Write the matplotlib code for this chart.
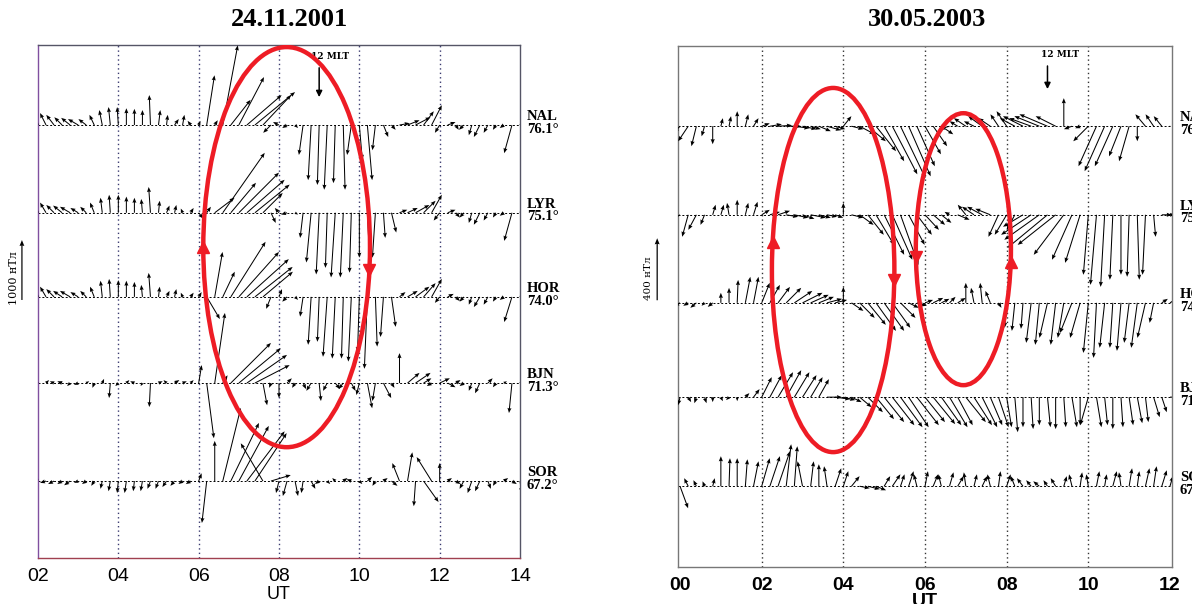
import numpy as np
import matplotlib
matplotlib.use('Agg')
import matplotlib.pyplot as plt
from matplotlib.patches import Ellipse

# ---------------- 24.11.2001 (02-14 UT, 12 min samples, nT) ----------------
t_2001 = np.round(np.arange(2.0, 14.01, 0.2), 1)

nal_x_2001 = [-50, -100, -130, -130, -150, -170, -130, -80, -50, -30, -20, 0, 0, 0, -20,
              30, 20, 70, 30, -50, 30, 130, 50, 250, 330, 420, 580, 670, 470, -130,
              -100, -80, 50, -70, -50, -30, -50, -30, 30, -70, 50, 80, -50, 80, 70,
              170, 200, 250, 170, 170, -80, 130, 50, -80, -50, -100, -70, -50, -70, -130, 30]
nal_y_2001 = [250, 200, 170, 130, 120, 100, 100, 170, 250, 300, 300, 280, 270, 250, 500,
              250, 170, 100, 170, 70, 70, 830, 80, 1330, 420, 800, 500, 550, 500, -130,
              50, -50, -50, -500, -920, -1000, -1080, -970, -1080, -500, -580, -920, -420, -200, -80,
              30, 80, 130, 230, 330, -130, 50, -80, -80, -170, -200, -130, -80, -50, -470, 30]

lyr_x_2001 = [-50, -100, -130, -150, -170, -130, -100, -70, -30, -20, 0, 0, 0, -20, -30,
              20, 50, 30, -30, 50, 80, 70, 330, 700, 420, 670, 630, 580, 330, 80,
              -70, -100, 50, -50, -80, -50, -30, -70, -50, -30, 0, 50, -50, 30, 80,
              130, 170, 230, 200, 170, -100, 130, 70, -70, -50, -100, -70, -50, -70, -130, 30]
lyr_y_2001 = [250, 170, 130, 120, 100, 80, 100, 170, 250, 300, 300, 270, 250, 230, 430,
              200, 120, 130, 70, 80, -100, 100, 250, 1000, 500, 670, 550, 470, 330, -170,
              80, -30, -30, -420, -830, -1030, -920, -1080, -1080, -1000, -750, -1000, -750, -420, -330,
              50, 80, 130, 200, 300, -130, 50, -80, -80, -170, -200, -130, -80, -50, -470, 30]

hor_x_2001 = [-50, -100, -130, -150, -170, -130, -100, -70, -30, -20, 0, 0, 0, -20, -30,
              20, 50, 30, -30, 50, 50, 220, 130, 200, 580, 670, 700, 630, 500, -80,
              50, -80, 50, -50, -50, -30, -70, -50, -30, -50, -30, -50, 30, -50, 70,
              100, 170, 230, 200, 170, -80, 100, 70, -70, -50, -100, -70, -50, -70, -130, 30]
hor_y_2001 = [230, 170, 130, 100, 100, 80, 100, 170, 270, 300, 280, 270, 250, 200, 400,
              170, 100, 130, 70, 70, 80, -370, 750, 420, 920, 750, 630, 500, 420, -200,
              130, -80, -50, -330, -800, -750, -1000, -1030, -1030, -1080, -920, -1200, -830, -670, -500,
              80, 100, 170, 230, 300, -100, 50, -70, -80, -130, -170, -130, -80, -50, -420, 30]

bjn_x_2001 = [-130, 50, -70, -80, -50, -70, 50, -30, 30, -20, -50, 50, -70, -30, -20,
              70, -50, 80, 70, 50, 50, 120, 170, 80, 670, 700, 670, 580, 70, -30,
              0, 80, -50, 50, -80, 30, -70, 80, -80, 70, -50, 80, -50, 130, 50,
              0, 200, 250, 130, -80, 170, 130, 80, -70, -50, -80, 80, -50, 50, -50, 30]
bjn_y_2001 = [170, 50, 30, 30, -50, -30, 30, -80, 70, -250, -50, 50, 30, -50, -400,
              30, 50, 50, 30, 50, 300, -920, 1170, 130, 670, 580, 470, 300, -370, -80,
              -250, 80, -80, -100, -130, -300, -130, -100, -100, -130, -200, -420, -300, -250, -80,
              500, 170, 170, 80, -50, 80, -70, 50, -50, -130, -170, 80, -70, 30, -500, 30]

sor_x_2001 = [-80, -100, -100, -80, -100, -70, -70, -50, -30, -30, -20, -30, -20, -30, -50,
              -50, -70, -70, -70, -80, 50, -80, 0, 300, 470, 500, 630, 530, -370, 330,
              -50, -70, 50, -30, 70, -70, 50, -50, 70, -80, 50, 80, -50, 70, 100,
              -120, 80, -30, 250, -250, 0, 70, 80, -70, -70, -80, 50, -50, 70, 80, 30]
sor_y_2001 = [50, -30, -50, -50, -70, -30, -50, -80, -130, -170, -200, -200, -170, -170, -130,
              -130, -100, -80, -50, -50, 130, -700, 670, 1220, 970, 920, 830, 800, 630, 100,
              -200, -250, -250, -200, -130, -50, -50, 50, 50, 30, -50, 70, -80, 50, -80,
              300, 480, -420, -350, 400, 300, 50, -50, -130, -200, -170, -130, -80, 50, -50, -200]

# ---------------- 30.05.2003 (00-12 UT, 12 min samples, nT) ----------------
t_2003 = np.round(np.arange(0.0, 12.01, 0.2), 1)

nal_x_2003 = [-39, -65, -32, -19, 0, 13, 13, 0, 19, 32, 52, 77, 90, 97, 97,
              90, 65, 77, 90, 65, 52, 77, 97, 116, 129, 129, 161, 161, 142, 116,
              103, 90, 77, -65, -52, -77, -65, -90, -77, -52, -65, -97, -129, -142, -161,
              -181, -129, 0, -52, -32, -97, -116, -129, -116, -77, -65, 0, -65, -52, -52, 0]
nal_y_2003 = [-39, -97, -129, -65, -116, 52, 65, 97, 77, 52, 19, 13, 6, 0, -13,
              -19, -19, -32, -26, -19, 65, -19, -52, -97, -161, -226, -310, -335, -323, -258,
              -181, -129, -52, -19, 32, 52, 32, 65, 52, 77, 97, 52, 65, 52, 65,
              77, 65, 181, -19, -13, -97, -258, -290, -258, -194, -226, -97, 77, 77, 65, 0]

lyr_x_2003 = [-52, -39, -52, -26, 19, 19, -13, 0, 19, 26, 52, 65, 77, 77, 90,
              77, 97, 77, 65, 52, 0, 77, 90, 103, 116, 129, 129, 116, 103, 97,
              90, 77, 65, -32, 77, -52, -77, -97, -97, -65, -77, -52, -129, -194, -226,
              -258, -245, -194, -129, -97, -32, -39, -26, -19, 0, -13, 13, -19, 13, 65, 32]
lyr_y_2003 = [-32, -142, -97, -65, 65, 65, 77, 97, 77, 84, 32, 19, 26, -13, -19,
              -26, -19, -19, -13, -19, 77, -19, -65, -129, -194, -258, -290, -323, -194, -129,
              -97, -65, -52, 19, -32, 65, 52, 52, 39, -142, -129, -97, -77, -129, -161,
              -213, -194, -258, -290, -310, -387, -452, -465, -419, -387, -400, -419, -387, -142, 0, 0]

hor_x_2003 = [-39, -32, -39, -19, -32, 0, 0, 6, 32, 32, 52, 65, 77, 97, 116,
              129, 116, 97, 97, 77, 0, 77, 97, 116, 129, 129, 116, 97, 65, 65,
              52, 65, 52, 39, 52, 0, -19, -13, -32, 19, -13, -19, -13, -32, -26,
              -52, -32, -39, -77, -65, -32, -19, -32, -19, -26, -32, -39, -52, -26, 39, 52]
hor_y_2003 = [-19, -19, -32, -19, -26, 65, 97, 148, 168, 168, 129, 116, 103, 97, 77,
              65, 52, 39, 26, 19, 103, -52, -97, -142, -181, -181, -161, -97, -32, -19,
              19, 32, 26, 39, 32, 129, 97, 129, 77, -32, -161, -181, -168, -258, -271,
              -226, -271, -226, -194, -226, -323, -355, -290, -290, -310, -258, -290, -226, -129, 26, 32]

bjn_x_2003 = [-13, 19, -13, 13, 0, 13, -19, 0, 26, 39, 65, 77, 97, 97, 97,
              90, 77, 65, 97, 97, 77, 65, 77, 97, 116, 129, 142, 142, 129, 142,
              129, 142, 129, 116, 97, 129, 116, 97, 77, 65, 32, 19, 0, 13, 0,
              19, 0, 13, 32, 0, -52, 32, 19, 0, 13, 26, 32, 19, 39, 32, 65]
bjn_y_2003 = [-52, -32, -39, -39, -32, -26, -19, -26, 26, 52, 129, 142, 161, 174, 161,
              142, 129, 116, 0, -13, -19, -32, -65, -97, -142, -161, -181, -194, -194, -181,
              -161, -174, -181, -194, -181, -161, -181, -194, -181, -194, -194, -226, -194, -206, -181,
              -194, -206, -194, -194, -181, -181, -194, -181, -206, -194, -181, -168, -161, -129, -97, 0]

sor_x_2003 = [52, -26, -19, -13, 13, 0, 6, 0, 13, 32, 52, 65, 77, 32, 19,
              -32, 19, 0, -19, 39, 32, 52, 65, 77, 65, 39, 52, 26, 32, -19,
              19, 32, -19, 26, 39, -13, 19, 32, -19, 13, 26, -26, -39, -32, -39,
              -26, -32, 19, -19, 13, -13, 19, 13, 26, -13, 19, 13, 26, 19, 32, 19]
sor_y_2003 = [-142, 52, 39, 32, 52, 194, 181, 181, 174, 161, 181, 194, 226, 271, 258,
              161, 161, 142, 129, 116, 97, 65, -13, -19, -26, 65, 77, 77, 97, 77,
              97, 77, 77, 90, 65, 90, 77, 65, 77, 97, 77, 65, 52, 39, 32,
              39, 52, 65, 77, 90, 77, 97, 77, 97, 90, 116, 97, 116, 129, 103, 65]

stations = ['NAL', 'LYR', 'HOR', 'BJN', 'SOR']
latitudes = ['76.1°', '75.1°', '74.0°', '71.3°', '67.2°']

RED = '#ee1c25'

fig = plt.figure(figsize=(11.92, 6.04), dpi=100)
W, H = 1192.0, 604.0


def panel(rect, t, comps, levels, nt_per_unit, xlim, xticks, bold, frame_col, grid_col):
    ax = fig.add_axes(rect)
    ax.set_xlim(*xlim)
    ax.set_ylim(0, 100)
    ax.set_yticks([])
    ax.set_xticks(xticks)
    ax.set_xticklabels(['%02d' % v for v in xticks], family='Liberation Sans',
                       fontsize=14, fontweight='bold' if bold else 'normal')
    ax.tick_params(axis='x', length=0, pad=7)
    for s in ax.spines.values():
        s.set_color(frame_col)
        s.set_linewidth(1.0)
    for xv in xticks[1:-1]:
        ax.axvline(xv, color=grid_col, lw=1.0, ls=(0, (1, 2.2)), zorder=1)
    for (u, v), lev in zip(comps, levels):
        ax.axhline(lev, color='k', lw=0.7, ls=(0, (2, 2)), zorder=2)
        ax.quiver(t, np.full(len(t), lev), u, v, angles='uv', scale_units='y',
                  scale=nt_per_unit, width=0.0021, headwidth=4, headlength=5,
                  headaxislength=4.5, color='k', pivot='tail', zorder=3)
    return ax


def labels(ax, levels, xfrac):
    for name, lat, lev in zip(stations, latitudes, levels):
        ax.text(xfrac, lev + 0.4, name + '\n' + lat, transform=ax.get_yaxis_transform(),
                ha='left', va='center', fontsize=10.5, family='Liberation Serif',
                fontweight='bold', linespacing=0.95, clip_on=False)


def ring(ax, cx, cy, w, h, marks):
    ax.add_patch(Ellipse((cx, cy), w, h, fill=False, ec=RED, lw=3.2, zorder=6))
    for ang, m in marks:
        a = np.radians(ang)
        ax.plot(cx + w / 2 * np.cos(a), cy + h / 2 * np.sin(a), marker=m, ms=9,
                color=RED, zorder=7, clip_on=False)


# ---- left panel ----
lev_2001 = [84.4, 67.3, 50.9, 34.1, 15.0]
comps_2001 = [(nal_x_2001, nal_y_2001), (lyr_x_2001, lyr_y_2001), (hor_x_2001, hor_y_2001),
              (bjn_x_2001, bjn_y_2001), (sor_x_2001, sor_y_2001)]
ax1 = panel([38 / W, 1 - 558 / H, 482 / W, 513 / H], t_2001, comps_2001, lev_2001, 85.6,
            (2, 14), [2, 4, 6, 8, 10, 12, 14], False, '#555566', '#3a3a70')
ax1.spines['left'].set_color('#8050a0')
ax1.spines['bottom'].set_color('#a04050')
ax1.set_xlabel('UT', family='Liberation Sans', fontsize=13)
ax1.xaxis.set_label_coords(0.5, -0.054)
labels(ax1, lev_2001, 1.014)
fig.text(289 / W, 1 - 19 / H, '24.11.2001', family='Liberation Serif', fontweight='bold',
         fontsize=19, ha='center', va='center')

ax1.quiver([1.6], [50.3], [0], [1000], angles='uv', scale_units='y', scale=85.6,
           width=0.0025, headwidth=4, headlength=5, headaxislength=4.5, color='k',
           clip_on=False)
ax1.text(1.40, 54.5, '1000 нТл', rotation=90, ha='center', va='center', fontsize=8,
         family='DejaVu Serif', clip_on=False)
ax1.annotate('', xy=(9.0, 89.3), xytext=(9.0, 96.1),
             arrowprops=dict(arrowstyle='-|>', color='k', lw=1.1, mutation_scale=9))
ax1.text(9.26, 97.7, '12 MLT', fontsize=6.5, family='DejaVu Serif', fontweight='bold',
         ha='center', va='center')
ring(ax1, 8.19, 60.6, 4.15, 78.0, [(180, '^'), (-6.5, 'v')])

# ---- right panel ----
lev_2003 = [84.6, 67.6, 50.7, 32.6, 15.5]
comps_2003 = [(nal_x_2003, nal_y_2003), (lyr_x_2003, lyr_y_2003), (hor_x_2003, hor_y_2003),
              (bjn_x_2003, bjn_y_2003), (sor_x_2003, sor_y_2003)]
ax2 = panel([678 / W, 1 - 567 / H, 494 / W, 521 / H], t_2003, comps_2003, lev_2003, 33.6,
            (-0.05, 12.05), [0, 2, 4, 6, 8, 10, 12], True, '#777777', '#333333')
ax2.set_xlabel('UT', family='Liberation Sans', fontsize=14, fontweight='bold')
ax2.xaxis.set_label_coords(0.5, -0.05)
labels(ax2, lev_2003, 1.016)
fig.text(927 / W, 1 - 19 / H, '30.05.2003', family='Liberation Serif', fontweight='bold',
         fontsize=19, ha='center', va='center')

ax2.quiver([-0.56], [51.2], [0], [400], angles='uv', scale_units='y', scale=33.6,
           width=0.0025, headwidth=4, headlength=5, headaxislength=4.5, color='k',
           clip_on=False)
ax2.text(-0.77, 55.5, '400 нТл', rotation=90, ha='center', va='center', fontsize=7.5,
         family='DejaVu Serif', clip_on=False)
ax2.annotate('', xy=(9.0, 91.2), xytext=(9.0, 96.7),
             arrowprops=dict(arrowstyle='-|>', color='k', lw=1.1, mutation_scale=9))
ax2.text(9.31, 98.3, '12 MLT', fontsize=6.5, family='DejaVu Serif', fontweight='bold',
         ha='center', va='center')
ring(ax2, 3.75, 57.0, 3.0, 69.9, [(171, '^'), (-3, 'v')])
ring(ax2, 6.94, 61.0, 2.33, 52.2, [(183.5, 'v'), (-5.5, '^')])

fig.savefig('out.png', dpi=100)
